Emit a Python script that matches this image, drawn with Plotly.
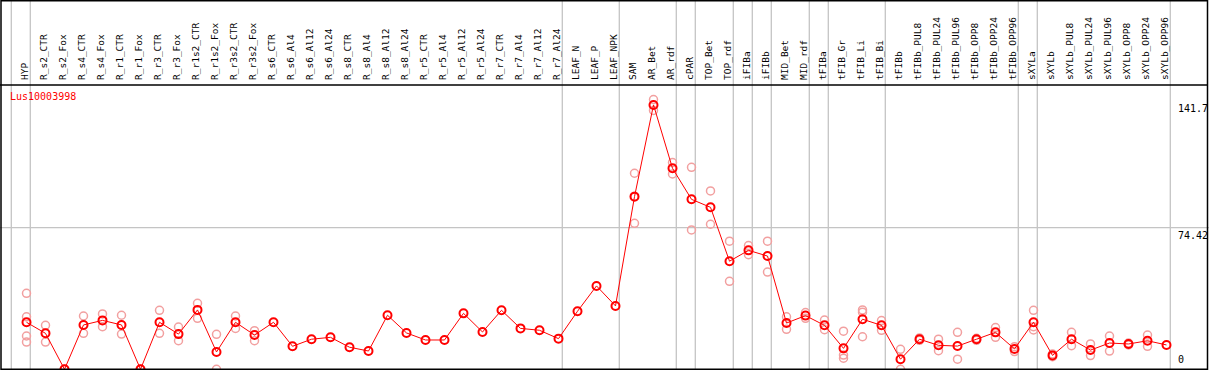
import plotly.graph_objects as go

categories = ["HYP", "R_s2_CTR", "R_s2_Fox", "R_s4_CTR", "R_s4_Fox", "R_r1_CTR", "R_r1_Fox",
              "R_r3_CTR", "R_r3_Fox", "R_r1s2_CTR", "R_r1s2_Fox", "R_r3s2_CTR", "R_r3s2_Fox",
              "R_s6_CTR", "R_s6_Al4", "R_s6_Al12", "R_s6_Al24", "R_s8_CTR", "R_s8_Al4",
              "R_s8_Al12", "R_s8_Al24", "R_r5_CTR", "R_r5_Al4", "R_r5_Al12", "R_r5_Al24",
              "R_r7_CTR", "R_r7_Al4", "R_r7_Al12", "R_r7_Al24", "LEAF_N", "LEAF_P", "LEAF_NPK",
              "SAM", "AR_Bet", "AR_rdf", "cPAR", "TOP_Bet", "TOP_rdf", "iFIBa", "iFIBb",
              "MID_Bet", "MID_rdf", "tFIBa", "tFIB_Gr", "tFIB_Li", "tFIB_Bi", "tFIBb",
              "tFIBb_PUL8", "tFIBb_PUL24", "tFIBb_PUL96", "tFIBb_OPP8", "tFIBb_OPP24",
              "tFIBb_OPP96", "sXYLa", "sXYLb", "sXYLb_PUL8", "sXYLb_PUL24", "sXYLb_PUL96",
              "sXYLb_OPP8", "sXYLb_OPP24", "sXYLb_OPP96"]

means = [24.7, 18.9, 0.0, 23.3, 25.7, 23.3, 0.0, 24.7, 18.5, 31.2, 9.1, 24.7, 18.0,
         24.7, 12.1, 15.8, 16.8, 11.6, 9.6, 28.4, 19.1, 15.4, 15.4, 29.4, 19.6,
         31.0, 21.5, 20.5, 16.1, 30.5, 43.8, 33.3,
         90.7, 138.9, 105.6, 89.3, 85.1, 56.8, 62.5, 59.5,
         24.3, 28.2, 23.1, 11.0, 26.3, 23.1, 5.3,
         15.8, 12.6, 12.2, 15.8, 19.4, 10.7,
         24.7, 7.3, 15.8, 10.1, 13.8, 13.3, 15.0, 12.8]

replicates = [[39.9, 27.6, 17.5, 14.3], [23.1, 14.3], [0.0, 0.0], [28.0, 18.9], [29.1, 22.4],
              [28.4, 18.5], [0.0, 0.0], [31.0, 18.9], [22.2, 15.0], [34.7, 26.8], [18.4, 0.0],
              [28.0, 21.5], [20.3, 15.0],
              [], [], [], [], [], [], [], [], [], [], [], [], [], [], [], [], [], [], [],
              [103.0, 90.9, 76.7], [141.7, 136.0], [108.6, 102.6], [106.1, 73.2], [93.7, 76.2],
              [67.3, 46.2], [65.0, 60.2], [67.3, 51.1],
              [27.6, 21.0], [29.8, 26.8], [25.9, 20.8], [20.0, 7.5, 5.8], [31.2, 30.0, 17.1],
              [25.6, 20.5], [10.5, 0.0],
              [16.5, 15.2], [15.8, 9.8], [19.4, 5.3], [16.3, 15.2], [21.9, 16.8], [11.9, 9.3],
              [31.0, 22.4, 20.7], [8.0, 6.6], [19.4, 12.4], [13.3, 7.2], [17.5, 9.6],
              [13.8, 12.8], [18.0, 12.1], []]

group_after = ["", "HYP", "R_r7_Al24", "LEAF_NPK", "AR_rdf", "cPAR", "TOP_rdf", "iFIBa", "iFIBb",
               "MID_rdf", "tFIBa", "tFIB_Bi", "tFIBb_OPP96", "sXYLa", "sXYLb_OPP96"]

title_text = "Lus10003998"
y_max_label = "141.7"
y_mid_label = "74.42"
y_top = 148.84

W, H = 1209, 370
FONT = "DejaVu Sans Mono"

xs = list(range(len(categories)))
rx, ry = [], []
for i, reps in enumerate(replicates):
    for v in reps:
        rx.append(i)
        ry.append(v)

fig = go.Figure()
fig.add_trace(go.Scatter(x=rx, y=ry, mode="markers",
                         marker=dict(symbol="circle-open", size=8, color="#F2A0A0",
                                     line=dict(width=1.5, color="#F2A0A0")),
                         hoverinfo="skip", showlegend=False))
fig.add_trace(go.Scatter(x=xs, y=means, mode="lines+markers",
                         line=dict(color="#FF0000", width=1),
                         marker=dict(symbol="circle-open", size=8, color="#FF0000",
                                     line=dict(width=2, color="#FF0000")),
                         showlegend=False))

x0 = -26.5 / 19.0
x1 = (W - 26.5) / 19.0
dom_top = 1 - 86.0 / H
dom_bot = (H - 369.3) / H

shapes = []
for name in group_after:
    gx = (categories.index(name) if name else -1) + 0.2
    shapes.append(dict(type="line", xref="x", yref="paper", x0=gx, x1=gx, y0=0, y1=1,
                       line=dict(color="#C4C4C4", width=1.3), layer="below"))
shapes.append(dict(type="line", xref="paper", yref="y", x0=0, x1=1, y0=y_top / 2, y1=y_top / 2,
                   line=dict(color="#C4C4C4", width=1.3), layer="below"))
shapes.append(dict(type="rect", xref="paper", yref="paper", x0=1 / W, x1=1207.5 / W,
                   y0=dom_bot, y1=1 - 0.8 / H, line=dict(color="black", width=1.5)))
shapes.append(dict(type="line", xref="paper", yref="paper", x0=0, x1=1207.5 / W,
                   y0=1 - 85.0 / H, y1=1 - 85.0 / H, line=dict(color="black", width=1.5)))

annotations = [
    dict(text=title_text, xref="paper", yref="paper", x=8 / W, y=1 - 89.0 / H,
         xanchor="left", yanchor="top", showarrow=False,
         font=dict(family=FONT, size=10, color="#FF0000")),
    dict(text=y_max_label, xref="paper", yref="y", x=1176 / W, y=141.7, yshift=-1,
         xanchor="left", yanchor="top", showarrow=False,
         font=dict(family=FONT, size=10, color="black")),
    dict(text=y_mid_label, xref="paper", yref="y", x=1176 / W, y=y_top / 2, yshift=0,
         xanchor="left", yanchor="top", showarrow=False,
         font=dict(family=FONT, size=10, color="black")),
    dict(text="0", xref="paper", yref="y", x=1176 / W, y=0, yshift=2,
         xanchor="left", yanchor="bottom", showarrow=False,
         font=dict(family=FONT, size=10, color="black")),
]

fig.update_layout(
    template="none",
    width=W, height=H,
    margin=dict(l=0, r=0, t=0, b=0),
    paper_bgcolor="white", plot_bgcolor="white",
    showlegend=False,
    shapes=shapes,
    annotations=annotations,
    xaxis=dict(range=[x0, x1], side="top", tickmode="array", tickvals=xs, ticktext=categories,
               tickangle=-90, ticks="", showgrid=False, zeroline=False, showline=False,
               automargin=False, ticklabelshift=-2, ticklabelstandoff=5,
               tickfont=dict(family=FONT, size=9.5, color="black")),
    yaxis=dict(range=[0, y_top], domain=[dom_bot, dom_top], showgrid=False, zeroline=False,
               showticklabels=False, ticks="", showline=False, automargin=False),
)

fig.write_html("out.html", config={"displayModeBar": False},
               post_script="document.body.style.margin='0';document.body.style.overflow='hidden';")
